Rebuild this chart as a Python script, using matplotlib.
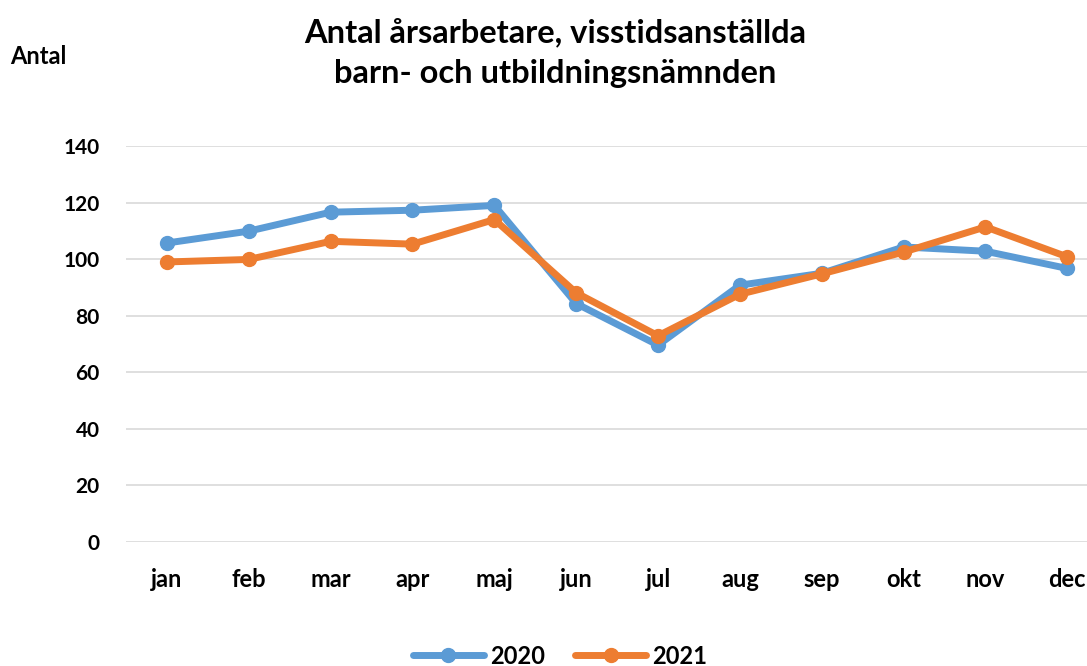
import matplotlib.pyplot as plt
import numpy as np

# %% data
months = ['jan', 'feb', 'mar', 'apr', 'maj', 'jun', 'jul', 'aug', 'sep', 'okt', 'nov', 'dec']
y2020 = [105.7, 109.9, 116.6, 117.3, 119.0, 84.3, 69.6, 90.8, 95.0, 104.3, 102.8, 96.7]
y2021 = [99.0, 99.9, 106.3, 105.3, 114.0, 88.1, 72.9, 87.6, 94.8, 102.5, 111.4, 100.8]
yticks = [0, 20, 40, 60, 80, 100, 120, 140]

plt.rcParams['font.family'] = ['Lato', 'DejaVu Sans']
plt.rcParams['font.weight'] = 'bold'

# %% plot
W, H = 1087, 666
fig = plt.figure(figsize=(W / 100, H / 100), dpi=100)
ax = fig.add_axes([126 / W, 1 - 542 / H, 1 - 126 / W, (542 - 146) / H])

x = np.arange(len(months))
ax.plot(x, y2020, color='#5B9BD5', lw=5, marker='o', ms=10, label='2020',
        solid_capstyle='round', zorder=3)
ax.plot(x, y2021, color='#ED7D31', lw=5, marker='o', ms=10, label='2021',
        solid_capstyle='round', zorder=4)

ax.set_xlim(-0.5, 11.24)
ax.set_ylim(0, 140)
ax.set_yticks(yticks)
ax.set_xticks(x)
ax.set_xticklabels(months)
ax.grid(axis='y', color='#D9D9D9', lw=1.2)
ax.set_axisbelow(True)
for s in ax.spines.values():
    s.set_visible(False)
ax.tick_params(length=0, colors='black')
ax.tick_params(axis='y', pad=19, labelsize=15)
ax.tick_params(axis='x', pad=19, labelsize=17)
for lab in ax.get_xticklabels() + ax.get_yticklabels():
    lab.set_fontweight('bold')

fig.text(555 / W, 1 - 32 / H, 'Antal årsarbetare, visstidsanställda', ha='center', va='center',
         fontsize=23.5, fontweight='bold')
fig.text(555 / W, 1 - 73 / H, 'barn- och utbildningsnämnden', ha='center', va='center',
         fontsize=23.5, fontweight='bold')
fig.text(10 / W, 1 - 57 / H, 'Antal', ha='left', va='center', fontsize=17, fontweight='bold')

leg = fig.legend(loc='center', bbox_to_anchor=(560 / W, 1 - 656 / H), ncol=2, frameon=False,
                 fontsize=17, handlelength=3.0, columnspacing=1.3, handletextpad=0.25)
for t in leg.get_texts():
    t.set_fontweight('bold')

fig.savefig('out.png', dpi=100)
